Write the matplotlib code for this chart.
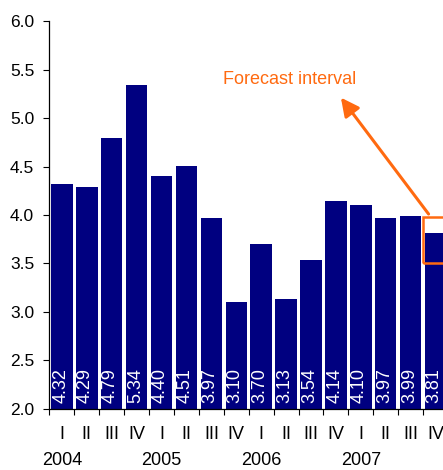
import matplotlib
matplotlib.use("Agg")
import matplotlib.pyplot as plt
from matplotlib import font_manager
from matplotlib.patches import Rectangle
from matplotlib.transforms import blended_transform_factory

plt.rcParams['font.family'] = ['Liberation Sans', 'DejaVu Sans']

# Quarterly values
quarters = ["I", "II", "III", "IV"] * 4
years = ["2004", "2005", "2006", "2007"]
values = [4.32, 4.29, 4.79, 5.34, 4.40, 4.51, 3.97, 3.10,
          3.70, 3.13, 3.54, 4.14, 4.10, 3.97, 3.99, 3.81]
y_ticks = [2.0, 2.5, 3.0, 3.5, 4.0, 4.5, 5.0, 5.5, 6.0]

# Forecast interval for the last quarter
forecast_low, forecast_high = 3.50, 3.98

bar_color = "#000080"
accent = "#FF6A10"
base = 2.0

installed = {f.name for f in font_manager.fontManager.ttflist}
narrow = "Liberation Sans Narrow" if "Liberation Sans Narrow" in installed else "Liberation Sans"
label_size = 15.5 if narrow == "Liberation Sans Narrow" else 13

fig = plt.figure(figsize=(4.43, 4.70), dpi=100)
ax = fig.add_axes([0.1117, 0.1298, 0.8996, 0.8255])

x = list(range(len(values)))
ax.bar(x, [v - base for v in values], bottom=base, width=0.86,
       color=bar_color, edgecolor="none", zorder=2)

for xi, v in zip(x, values):
    ax.text(xi - 0.05, base + 0.065, f"{v:.2f}", rotation=90, ha="center",
            va="bottom", color="white", fontsize=label_size,
            family=[narrow, "DejaVu Sans"], zorder=3)

ax.set_xlim(-0.5, len(values) - 0.5)
ax.set_ylim(2.0, 6.0)
ax.set_yticks(y_ticks)
ax.set_yticklabels([f"{t:.1f}" for t in y_ticks], fontsize=12.5)
ax.tick_params(axis="y", direction="out", length=4, width=0.8, pad=7)

# boundary ticks between bars
ax.set_xticks([i - 0.5 for i in range(len(values) + 1)])
ax.set_xticklabels([])
ax.tick_params(axis="x", direction="out", length=4, width=0.8)

for s in ["top", "right"]:
    ax.spines[s].set_visible(False)
ax.spines["left"].set_linewidth(0.9)
ax.spines["bottom"].set_linewidth(0.9)

trans = blended_transform_factory(ax.transData, ax.transAxes)
for xi, q in zip(x, quarters):
    ax.text(xi, -0.067, q, transform=trans, ha="center", va="center",
            fontsize=13, clip_on=False)
for i, yr in enumerate(years):
    ax.text(i * 4, -0.132, yr, transform=trans, ha="center", va="center",
            fontsize=13, clip_on=False)

# forecast box and annotation
ax.add_patch(Rectangle((14.5, forecast_low), 1.3, forecast_high - forecast_low,
                       fill=False, edgecolor=accent, linewidth=1.8,
                       zorder=4, clip_on=False))
ax.annotate("", xy=(11.2, 5.21), xytext=(14.72, forecast_high + 0.03),
            arrowprops=dict(arrowstyle="-|>,head_length=1.1,head_width=0.55",
                            color=accent, lw=2.2, shrinkA=0, shrinkB=0),
            zorder=5)
ax.text(6.47, 5.35, "Forecast interval", color=accent, fontsize=13,
        ha="left", va="baseline")

fig.savefig("out.png", dpi=100)
